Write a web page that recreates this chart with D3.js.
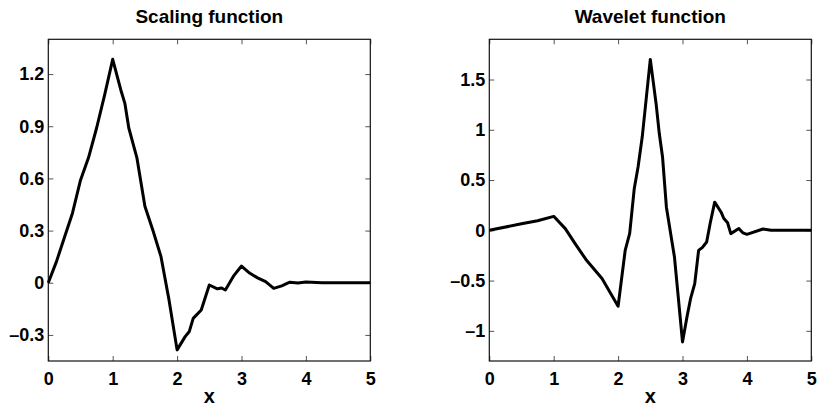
<!DOCTYPE html>
<html><head><meta charset="utf-8">
<script src="https://cdn.jsdelivr.net/npm/d3@7"></script>
<style>
body{margin:0;background:#fff;}
svg{display:block;font-family:"Liberation Sans",Arial,Helvetica,sans-serif;font-weight:bold;}
</style></head><body>
<svg id="c" width="823" height="409"></svg>
<script>
const phiX = [0,0.125,0.25,0.375,0.5,0.625,0.75,0.875,1.0,1.125,1.19,1.25,1.375,1.5,1.625,1.75,1.875,2.0,2.125,2.19,2.25,2.375,2.5,2.625,2.69,2.75,2.875,3.0,3.125,3.25,3.375,3.5,3.625,3.75,3.875,4.0,4.25,5];
const phiY = [0,0.12,0.26,0.40,0.59,0.72,0.89,1.08,1.285,1.11,1.03,0.89,0.72,0.44,0.30,0.15,-0.10,-0.386,-0.31,-0.28,-0.205,-0.157,-0.013,-0.035,-0.03,-0.042,0.038,0.096,0.056,0.028,0.006,-0.032,-0.018,0.003,-0.002,0.004,0.0,0];
const psiX = [0,0.5,0.75,1.0,1.18,1.33,1.5,1.75,2.0,2.11,2.18,2.25,2.31,2.375,2.5,2.59,2.64,2.69,2.75,2.875,3.0,3.07,3.125,3.19,3.25,3.31,3.375,3.43,3.5,3.6,3.64,3.7,3.75,3.875,3.94,4.0,4.25,4.375,5];
const psiY = [0,0.065,0.095,0.139,0.017,-0.13,-0.29,-0.48,-0.755,-0.2,-0.03,0.41,0.63,0.93,1.70,1.26,0.96,0.73,0.23,-0.265,-1.11,-0.86,-0.68,-0.53,-0.2,-0.17,-0.116,0.07,0.28,0.18,0.12,0.075,-0.033,0.017,-0.026,-0.04,0.013,0,0];
const xTicks = [0,1,2,3,4,5];
const phiTicks = [-0.3,0,0.3,0.6,0.9,1.2];
const phiTickLabels = ["\u20130.3","0","0.3","0.6","0.9","1.2"];
const psiTicks = [-1,-0.5,0,0.5,1,1.5];
const psiTickLabels = ["\u20131","\u20130.5","0","0.5","1","1.5"];
const titles = ["Scaling function","Wavelet function"];
const xLabel = "x";

const svg = d3.select("#c");
const plotTop = 39.3, plotBottom = 361;

function panel(left, right, xs, ys, yDom, yt, ytl, title){
  const x = d3.scaleLinear().domain([0,5]).range([left,right]);
  const y = d3.scaleLinear().domain(yDom).range([plotBottom,plotTop]);
  const g = svg.append("g");
  const styleAxis = a => {
    a.select(".domain").remove();
    a.selectAll(".tick line").attr("stroke","#555").attr("stroke-width",1);
    a.selectAll("text").attr("fill","#000").style("font-size","18px").style("font-weight","bold");
  };
  g.append("g").attr("transform",`translate(0,${plotBottom})`)
    .call(d3.axisBottom(x).tickValues(xTicks).tickSize(-5).tickPadding(11).tickFormat(d3.format("d"))).call(styleAxis);
  g.append("g").attr("transform",`translate(0,${plotTop})`)
    .call(d3.axisTop(x).tickValues(xTicks).tickSize(-5).tickFormat("")).call(styleAxis);
  g.append("g").attr("transform",`translate(${left},0)`)
    .call(d3.axisLeft(y).tickValues(yt).tickSize(-5).tickPadding(4).tickFormat((d,i)=>ytl[i])).call(styleAxis);
  g.append("g").attr("transform",`translate(${right},0)`)
    .call(d3.axisRight(y).tickValues(yt).tickSize(-5).tickFormat("")).call(styleAxis);
  g.append("rect").attr("x",left).attr("y",plotTop).attr("width",right-left).attr("height",plotBottom-plotTop)
    .attr("fill","none").attr("stroke","#111").attr("stroke-width",1.2);
  const line = d3.line().x((d,i)=>x(xs[i])).y((d,i)=>y(ys[i]));
  g.append("path").datum(ys).attr("d",line).attr("fill","none").attr("stroke","#000")
    .attr("stroke-width",3).attr("stroke-linejoin","round");
  g.append("text").attr("x",(left+right)/2).attr("y",23).attr("text-anchor","middle")
    .style("font-size","19px").text(title);
  g.append("text").attr("x",(left+right)/2).attr("y",403).attr("text-anchor","middle")
    .style("font-size","20px").text(xLabel);
}
panel(48.3, 370.3, phiX, phiY, [-0.45,1.4], phiTicks, phiTickLabels, titles[0]);
panel(489.3, 811.3, psiX, psiY, [-1.3,1.9], psiTicks, psiTickLabels, titles[1]);
</script></body></html>
